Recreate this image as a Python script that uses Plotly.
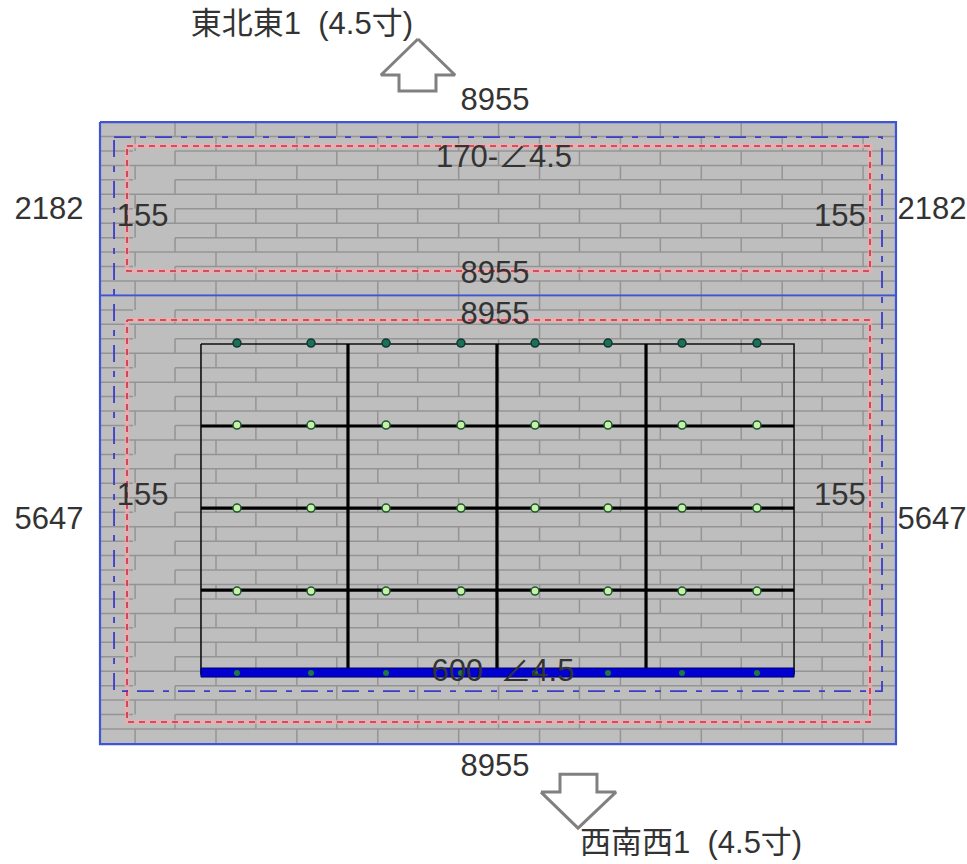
import plotly.graph_objects as go

# Roof plan dimensions (mm)
roof_width = 8955
upper_depth = 2182
lower_depth = 5647
total_depth = upper_depth + lower_depth

course_height = 181.9
course_count = 43
upper_courses = 12
brick_length = 910
joint_offset_a = 844
joint_offset_b = 395
gap_x = [371, 844]

eave_rect_x = [158, 8798]
eave_rect_y = [189, 7162]
red_x = [304, 8663]
red_upper_y = [302, 1875]
red_lower_y = [2492, 7552]

frame_x = [1136, 7808]
frame_y = [2794, 6948]
rafter_x = [2790, 4466, 6143]
purlin_y = [3826, 4859, 5891]
post_x = [1541, 2374, 3218, 4061, 4894, 5715, 6548, 7391]
post_y_top = 2782
post_y_mid = [3814, 4859, 5903]
post_y_bottom = 6935
eave_bar_y = [6872, 6986]

arrow_up_x = [3577, 3161, 3364, 3364, 3780, 3780, 3994, 3577]
arrow_up_y = [-1045, -592, -592, -390, -390, -592, -592, -1045]
arrow_dn_x = [4961, 5175, 5175, 5591, 5591, 5805, 5378, 4961]
arrow_dn_y = [8434, 8434, 8208, 8208, 8434, 8434, 8887, 8434]

labels = [
    ("東北東1  (4.5寸)", 2272, -1208),
    ("8955", 4444, -252),
    ("170-∠4.5", 4545, 465),
    ("2182", -574, 1125),
    ("155", 480, 1210),
    ("155", 8325, 1210),
    ("2182", 9360, 1125),
    ("8955", 4444, 1930),
    ("8955", 4444, 2442),
    ("5647", -574, 5025),
    ("155", 480, 4725),
    ("155", 8325, 4725),
    ("5647", 9360, 5025),
    ("600  ∠4.5", 4533, 6940),
    ("8955", 4444, 8138),
    ("西南西1  (4.5寸)", 6650, 9103),
]

fig = go.Figure()


def line(xs, ys, color, width, dash="solid"):
    fig.add_trace(go.Scatter(x=xs, y=ys, mode="lines", hoverinfo="skip",
                             line=dict(color=color, width=width, dash=dash)))


def rect(xr, yr):
    return [xr[0], xr[1], xr[1], xr[0], xr[0]], [yr[0], yr[0], yr[1], yr[1], yr[0]]


def is_a_course(k):
    return k % 2 == 0 if k < upper_courses else k % 2 == 1


# roof surface
rx, ry = rect([0, roof_width], [0, total_depth])
fig.add_trace(go.Scatter(x=rx, y=ry, mode="lines", fill="toself", fillcolor="#bfbebe",
                         line=dict(width=0), hoverinfo="skip"))

# slate courses
hx, hy, vx, vy = [], [], [], []
for k in range(course_count):
    y0 = k * course_height
    y1 = min(y0 + course_height, total_depth)
    a = is_a_course(k)
    if k > 0:
        if a:
            hx += [0, gap_x[0], None, gap_x[1], roof_width, None]
            hy += [y0, y0, None, y0, y0, None]
        else:
            hx += [0, roof_width, None]
            hy += [y0, y0, None]
    x = joint_offset_a if a else joint_offset_b
    while x < roof_width:
        vx += [x, x, None]
        vy += [y0, y1, None]
        x += brick_length
line(hx, hy, "#949494", 1.5)
line(vx, vy, "#949494", 1.5)

# outlines
rx, ry = rect([0, roof_width], [0, total_depth])
line(rx, ry, "#3f55d8", 2.2)
line([0, roof_width], [upper_depth, upper_depth], "#3f55d8", 1.6)

for yr in (red_upper_y, red_lower_y):
    rx, ry = rect(red_x, yr)
    line(rx, ry, "rgba(245,170,170,0.7)", 4.5)
    line(rx, ry, "#cc2c48", 1.6, "6px,5px")
rx, ry = rect(eave_rect_x, eave_rect_y)
line(rx, ry, "#3c3cc8", 1.8, "17px,9px,6px,9px")

# frame
rx, ry = rect(frame_x, frame_y)
line(rx, ry, "#111111", 1.6)
for x in rafter_x:
    line([x, x], [frame_y[0], eave_bar_y[0]], "#000000", 3.2)
for y in purlin_y:
    line(frame_x, [y, y], "#000000", 3.2)
rx, ry = rect(frame_x, eave_bar_y)
fig.add_trace(go.Scatter(x=rx, y=ry, mode="lines", fill="toself", fillcolor="#0000d0",
                         line=dict(color="#000070", width=1), hoverinfo="skip"))

# posts
fig.add_trace(go.Scatter(x=post_x, y=[post_y_top] * len(post_x), mode="markers", hoverinfo="skip",
                         marker=dict(size=8, color="#1c6f58", line=dict(color="#103a30", width=1.5))))
for y in post_y_mid:
    fig.add_trace(go.Scatter(x=post_x, y=[y] * len(post_x), mode="markers", hoverinfo="skip",
                             marker=dict(size=8, color="#c8f0a8", line=dict(color="#1c5a30", width=1.5))))
fig.add_trace(go.Scatter(x=post_x, y=[post_y_bottom] * len(post_x), mode="markers", hoverinfo="skip",
                         marker=dict(size=6, color="#1c7a40", line=dict(width=0))))

# wind-direction arrows
line(arrow_up_x, arrow_up_y, "#808080", 3)
line(arrow_dn_x, arrow_dn_y, "#808080", 3)

# text
fig.add_trace(go.Scatter(
    x=[l[1] for l in labels], y=[l[2] for l in labels], text=[l[0] for l in labels],
    mode="text", textposition="middle center", hoverinfo="skip",
    textfont=dict(family="Liberation Sans, Noto Sans CJK JP", size=31, color="#333333")))

fig.update_layout(
    width=967, height=864, showlegend=False, plot_bgcolor="white", paper_bgcolor="white",
    margin=dict(l=0, r=0, t=0, b=0),
    xaxis=dict(range=[-1125, 9754], visible=False, fixedrange=True),
    yaxis=dict(range=[9339, -1536], visible=False, fixedrange=True),
)
fig.write_html("out.html", config={"displayModeBar": False},
               post_script="document.body.style.margin='0';")
